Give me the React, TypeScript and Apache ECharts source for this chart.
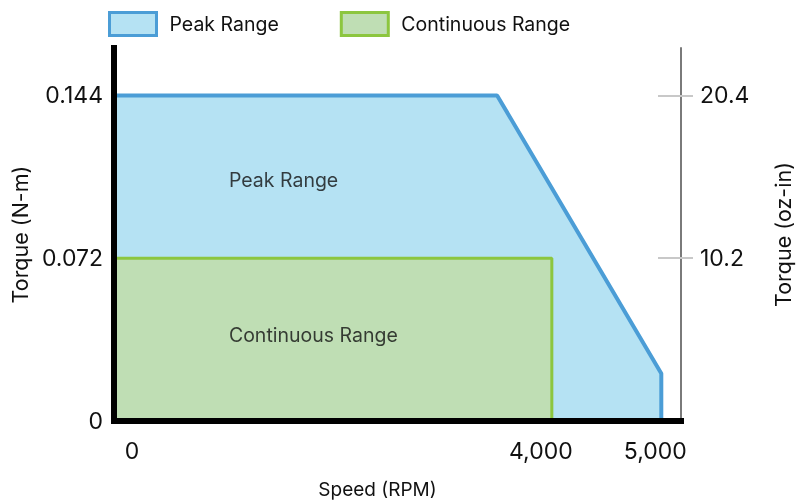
import React, { useEffect, useRef } from 'react';
import * as echarts from 'echarts';

const seriesNames = ['Peak Range', 'Continuous Range'];
const peakSpeed = [0, 3500, 5000, 5000];
const peakTorque = [0.144, 0.144, 0.021, 0];
const contSpeed = [0, 4000, 4000];
const contTorque = [0.072, 0.072, 0];
const speedTicks = [0, 4000, 5000];
const torqueNmTicks = [0, 0.072, 0.144];
const torqueOzInTicks = [10.2, 20.4];
const annotationNames = ['Peak Range', 'Continuous Range'];
const annotationSpeed = [1050, 1050];
const annotationTorque = [0.1065, 0.038];
const speedMax = 5180;
const torqueNmMax = 0.165;
const ozInPerNm = 141.612;

const FONT = 'Inter, sans-serif';
const BLUE_LINE = '#4b9dd6';
const BLUE_FILL = '#b5e2f3';
const GREEN_LINE = '#8cc63f';
const GREEN_FILL = '#bfdeb4';
const TXT = '#111';
const TICK_FS = 23;

export default function App() {
  const ref = useRef<HTMLDivElement>(null);
  useEffect(() => {
    if (!ref.current) return;
    const chart = echarts.init(ref.current, null, { renderer: 'svg' });
    const peakData = peakSpeed.map((s, i) => [s, peakTorque[i]]);
    const contData = contSpeed.map((s, i) => [s, contTorque[i]]);
    const annData = annotationNames.map((n, i) => ({ name: n, value: [annotationSpeed[i], annotationTorque[i]] }));
    const xShift: Record<number, string> = { 0: 'a', 4000: 'b', 5000: 'c' };
    const ozMax = torqueNmMax * ozInPerNm;
    chart.setOption({
      animation: false,
      textStyle: { fontFamily: FONT, color: TXT },
      legend: {
        left: 108,
        top: 11,
        padding: 0,
        icon: 'rect',
        itemWidth: 47,
        itemHeight: 23,
        itemGap: 61,
        textStyle: { fontSize: 19.5, color: TXT, fontFamily: FONT, padding: [0, 0, 0, 8] },
        data: [
          { name: seriesNames[0], itemStyle: { color: BLUE_FILL, borderColor: BLUE_LINE, borderWidth: 3 } },
          { name: seriesNames[1], itemStyle: { color: GREEN_FILL, borderColor: GREEN_LINE, borderWidth: 3 } },
        ],
      },
      grid: { left: 114, right: 115, top: 48, bottom: 83, containLabel: false, outerBoundsMode: 'none' },
      xAxis: {
        type: 'value',
        min: 0,
        max: speedMax,
        z: 10,
        name: 'Speed (RPM)',
        nameLocation: 'middle',
        nameGap: 59,
        nameTextStyle: { fontSize: 19, color: TXT, fontFamily: FONT, padding: [0, 40, 0, 0] },
        axisLine: { show: true, lineStyle: { color: '#000', width: 6, cap: 'square' } },
        axisTick: { show: false },
        splitLine: { show: false },
        axisLabel: {
          customValues: speedTicks,
          margin: 18,
          formatter: (v: number) => `{${xShift[v] || 'a'}|${v.toLocaleString('en-US')}}`,
          rich: {
            a: { fontSize: TICK_FS, fontFamily: FONT, color: TXT, padding: [0, 0, 0, 36] },
            b: { fontSize: TICK_FS, fontFamily: FONT, color: TXT, padding: [0, 22, 0, 0] },
            c: { fontSize: TICK_FS, fontFamily: FONT, color: TXT, padding: [0, 12, 0, 0] },
          },
        },
      },
      yAxis: [
        {
          type: 'value',
          min: 0,
          max: torqueNmMax,
          position: 'left',
          z: 10,
          name: 'Torque (N-m)',
          nameLocation: 'middle',
          nameRotate: 90,
          nameGap: 81,
          nameTextStyle: { fontSize: 21.5, color: TXT, fontFamily: FONT },
          axisLine: { show: true, onZero: false, lineStyle: { color: '#000', width: 6, cap: 'square' } },
          axisTick: { show: false },
          splitLine: { show: false },
          axisLabel: {
            customValues: torqueNmTicks,
            margin: 11,
            fontSize: TICK_FS,
            color: TXT,
            fontFamily: FONT,
            formatter: (v: number) => (v === 0 ? '0' : v.toFixed(3)),
          },
        },
        {
          type: 'value',
          min: 0,
          max: ozMax,
          position: 'right',
          z: 10,
          name: 'Torque (oz-in)',
          nameLocation: 'middle',
          nameRotate: 90,
          nameGap: 91,
          nameTextStyle: { fontSize: 21.5, lineHeight: 21, color: TXT, fontFamily: FONT },
          axisLine: { show: true, onZero: false, lineStyle: { color: '#7a7a7a', width: 2 } },
          axisTick: { show: false },
          splitLine: { show: false },
          axisLabel: {
            customValues: torqueOzInTicks,
            margin: 19,
            fontSize: TICK_FS,
            color: TXT,
            fontFamily: FONT,
            formatter: (v: number) => v.toFixed(1),
          },
        },
        {
          type: 'value',
          min: 0,
          max: ozMax,
          position: 'right',
          offset: -23,
          z: 11,
          axisLine: { show: false, onZero: false },
          axisTick: {
            show: true,
            customValues: torqueOzInTicks,
            length: 35,
            lineStyle: { color: '#c8c8c8', width: 2 },
          },
          splitLine: { show: false },
          axisLabel: { show: false },
        },
      ],
      series: [
        {
          type: 'line',
          name: seriesNames[0],
          data: peakData,
          symbol: 'none',
          lineStyle: { color: BLUE_LINE, width: 4 },
          itemStyle: { color: BLUE_FILL },
          areaStyle: { color: BLUE_FILL, opacity: 1 },
          z: 2,
        },
        {
          type: 'line',
          name: seriesNames[1],
          data: contData,
          symbol: 'none',
          lineStyle: { color: GREEN_LINE, width: 3 },
          itemStyle: { color: GREEN_FILL },
          areaStyle: { color: GREEN_FILL, opacity: 1 },
          z: 3,
        },
        {
          type: 'scatter',
          name: 'annotations',
          data: annData,
          symbolSize: 0,
          z: 4,
          label: {
            show: true,
            position: 'right',
            distance: 0,
            formatter: (p: any) => p.name,
            fontSize: 19.5,
            color: TXT,
            fontFamily: FONT,
          },
        },
      ],
    });
    return () => chart.dispose();
  }, []);
  return <div ref={ref} style={{ position: 'fixed', left: 0, top: 0, width: 796, height: 504 }} />;
}
